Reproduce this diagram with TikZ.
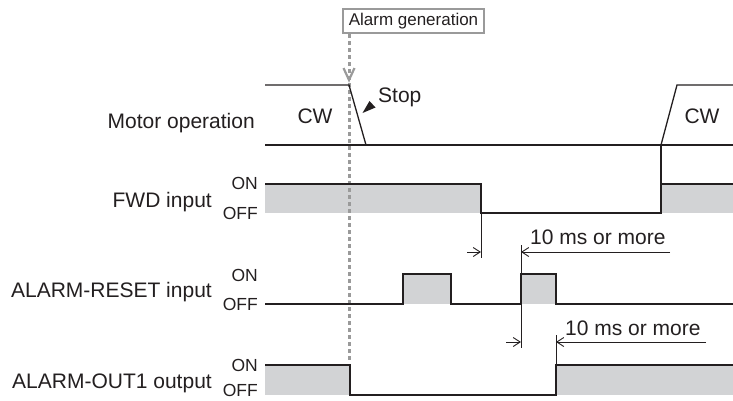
\documentclass[tikz,border=0pt]{standalone}
\usepackage{fontspec}
\setmainfont{Liberation Sans}
\usetikzlibrary{arrows.meta}
\definecolor{sigline}{HTML}{231F20}
\definecolor{sigfill}{HTML}{D2D3D5}
\definecolor{alarmgray}{HTML}{9A9A9A}
\begin{document}
\begin{tikzpicture}[x=1pt,y=-1pt,
  sig/.style={line width=1.3pt, draw=sigline, line join=miter},
  thin line/.style={line width=0.9pt, draw=sigline},
  lvl/.style={fill=sigfill, draw=none},
  bigtxt/.style={font=\fontsize{21}{25}\selectfont, inner sep=0pt, text=sigline},
  onoff/.style={font=\fontsize{17.5}{20}\selectfont, inner sep=0pt, text=sigline, anchor=base east},
  dimtip/.style={-{Straight Barb[length=7pt,width=9pt,line width=0.9pt]}, thin line},
  alarmline/.style={draw=alarmgray, line width=3pt, dash pattern=on 4pt off 3pt}]
\useasboundingbox (0,0) rectangle (733,400);

% ---- fills
\fill[lvl] (265,184) rectangle (481,213);
\fill[lvl] (661,184) rectangle (733,213);
\fill[lvl] (403,274) rectangle (451,304);
\fill[lvl] (521,274) rectangle (556,304);
\fill[lvl] (265,365) rectangle (350,395);
\fill[lvl] (556,365) rectangle (733,395);

% ---- alarm generation marker
\node[draw=alarmgray, line width=2.2pt, minimum width=141pt, minimum height=24pt, inner sep=0pt,
      font=\fontsize{17}{20}\selectfont, text=sigline] (alarm) at (413.5,21) {Alarm generation};
\coordinate (alarmend) at (349,363);
\draw[alarmline] (alarm.south -| alarmend) -- (alarmend);
\draw[draw=alarmgray, line width=2.2pt] (343.5,68) -- (349,80) -- (354.5,68);

% ---- motor operation
\draw[sig] (265,85) -- (349,85) -- (366,145);
\draw[sig] (265,145) -- (733,145);
\draw[sig] (661,145) -- (677,85) -- (733,85);
\node[bigtxt] (cw1) at (315,116) {CW};
\node[bigtxt] (cw2) at (702,116) {CW};
\node[bigtxt, anchor=base west] (stop) at (378,102) {Stop};
\fill[sigline] (362.5,113) -- (369.5,101) -- (375.5,107.5) -- cycle;

% ---- FWD input
\draw[sig] (265,184) -- (481,184) -- (481,213) -- (661,213) -- (661,145);
\draw[sig] (661,184) -- (733,184);

% ---- ALARM-RESET input
\draw[sig] (265,304) -- (403,304) -- (403,274) -- (451,274) -- (451,304) -- (521,304)
  -- (521,274) -- (556,274) -- (556,304) -- (733,304);

% ---- ALARM-OUT1 output
\draw[sig] (265,365) -- (350,365) -- (350,395) -- (556,395) -- (556,365) -- (733,365);

% ---- dimension 1
\draw[thin line] (481,213) -- (481,258);
\draw[thin line] (521,245) -- (521,348);
\draw[dimtip] (467,252) -- (481,252);
\draw[dimtip] (670,252) -- (521,252);
\node[bigtxt, anchor=base west] (dim1) at (530,244) {10 ms or more};

% ---- dimension 2
\draw[thin line] (556,335) -- (556,365);
\draw[dimtip] (506,342) -- (521,342);
\draw[dimtip] (706,342) -- (556,342);
\node[bigtxt, anchor=base west] (dim2) at (565,335) {10 ms or more};

% ---- row labels
\node[bigtxt, anchor=base east] (lmotor) at (255,128) {Motor operation};
\node[bigtxt, anchor=base east] (lfwd) at (212,207) {FWD input};
\node[bigtxt, anchor=base east] (lreset) at (212,297) {ALARM-RESET input};
\node[bigtxt, anchor=base east] (lout) at (212,388) {ALARM-OUT1 output};

\node[onoff] (on1) at (258,189.5) {ON};
\node[onoff] (off1) at (258,219.5) {OFF};
\node[onoff] (on2) at (258,281) {ON};
\node[onoff] (off2) at (258,310.5) {OFF};
\node[onoff] (on3) at (258,371.5) {ON};
\node[onoff] (off3) at (258,396.5) {OFF};
\end{tikzpicture}
\end{document}
